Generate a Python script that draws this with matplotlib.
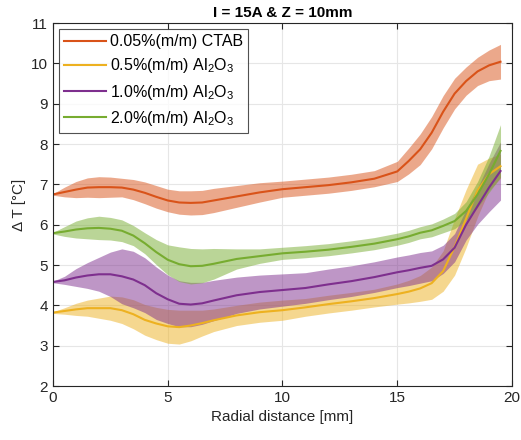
import matplotlib.pyplot as plt
import matplotlib
import numpy as np

matplotlib.rcParams['font.family'] = ['Liberation Sans', 'DejaVu Sans']
matplotlib.rcParams['mathtext.fontset'] = 'custom'
matplotlib.rcParams['mathtext.rm'] = 'Liberation Sans'
matplotlib.rcParams['mathtext.it'] = 'Liberation Sans'

# radial position [mm]
r = [0, 0.5, 1, 1.5, 2, 2.5, 3, 3.5, 4, 4.5, 5, 5.5, 6, 6.5, 7,
     8, 9, 10, 11, 12, 13, 14, 15, 15.5, 16, 16.5, 17, 17.5, 18, 18.5, 19, 19.5]

# mean temperature rise and spread for each fluid
ctab_mean = [6.75, 6.81, 6.87, 6.92, 6.93, 6.93, 6.92, 6.87, 6.79, 6.69, 6.6, 6.55, 6.54, 6.55, 6.6,
             6.7, 6.8, 6.88, 6.93, 6.98, 7.05, 7.14, 7.32, 7.58, 7.87, 8.28, 8.8, 9.25, 9.56, 9.8, 9.95, 10.04]
ctab_sd = [0.02, 0.12, 0.2, 0.24, 0.26, 0.25, 0.23, 0.25, 0.27, 0.28, 0.28, 0.29, 0.3, 0.3, 0.3,
           0.27, 0.24, 0.2, 0.2, 0.2, 0.2, 0.2, 0.25, 0.32, 0.38, 0.4, 0.4, 0.38, 0.35, 0.35, 0.38, 0.43]

al05_mean = [3.82, 3.86, 3.9, 3.93, 3.93, 3.93, 3.88, 3.78, 3.64, 3.55, 3.48, 3.46, 3.5, 3.56, 3.63,
             3.75, 3.83, 3.88, 3.95, 4.03, 4.1, 4.18, 4.28, 4.34, 4.42, 4.55, 4.85, 5.45, 6.15, 6.85, 7.25, 7.45]
al05_sd = [0.02, 0.08, 0.15, 0.2, 0.25, 0.3, 0.33, 0.36, 0.38, 0.4, 0.42, 0.42, 0.38, 0.32, 0.28,
           0.25, 0.25, 0.25, 0.22, 0.22, 0.22, 0.22, 0.25, 0.28, 0.32, 0.4, 0.5, 0.7, 0.72, 0.65, 0.4, 0.3]

al10_mean = [4.58, 4.62, 4.69, 4.74, 4.77, 4.77, 4.72, 4.64, 4.5, 4.3, 4.15, 4.04, 4.02, 4.05, 4.12,
             4.25, 4.33, 4.38, 4.43, 4.52, 4.6, 4.7, 4.82, 4.87, 4.93, 4.98, 5.14, 5.43, 6.0, 6.46, 6.92, 7.33]
al10_sd = [0.02, 0.1, 0.22, 0.32, 0.42, 0.55, 0.68, 0.7, 0.68, 0.65, 0.6, 0.57, 0.55, 0.52, 0.5,
           0.45, 0.42, 0.4, 0.38, 0.38, 0.38, 0.38, 0.38, 0.38, 0.38, 0.37, 0.35, 0.35, 0.38, 0.45, 0.6, 0.72]

al20_mean = [5.79, 5.83, 5.88, 5.91, 5.92, 5.9, 5.85, 5.73, 5.54, 5.32, 5.13, 5.02, 4.97, 4.98, 5.03,
             5.15, 5.22, 5.29, 5.33, 5.38, 5.45, 5.53, 5.64, 5.71, 5.8, 5.86, 5.97, 6.09, 6.34, 6.75, 7.25, 7.83]
al20_sd = [0.02, 0.12, 0.21, 0.26, 0.29, 0.28, 0.27, 0.25, 0.26, 0.31, 0.37, 0.43, 0.44, 0.42, 0.38,
           0.25, 0.18, 0.15, 0.15, 0.15, 0.15, 0.15, 0.15, 0.15, 0.15, 0.16, 0.17, 0.19, 0.23, 0.32, 0.45, 0.65]

labels = ['0.05%(m/m) CTAB', r'0.5%(m/m) Al$_2$O$_3$',
          r'1.0%(m/m) Al$_2$O$_3$', r'2.0%(m/m) Al$_2$O$_3$']
colors = ['#D95319', '#EDB120', '#7E2F8E', '#77AC30']
means = [ctab_mean, al05_mean, al10_mean, al20_mean]
sds = [ctab_sd, al05_sd, al10_sd, al20_sd]

fig = plt.figure(figsize=(5.21, 4.40), dpi=100)
ax = fig.add_axes([0.1017, 0.1227, 0.881, 0.825])

x = np.array(r)
for m, s, c, lab in zip(means, sds, colors, labels):
    m = np.array(m)
    s = np.array(s)
    ax.fill_between(x, m - s, m + s, color=c, alpha=0.5, linewidth=0)
    ax.plot(x, m, color=c, linewidth=1.5, label=lab)

ax.set_xlim(0, 20)
ax.set_ylim(2, 11)
ax.set_xticks([0, 5, 10, 15, 20])
ax.set_yticks(range(2, 12))
ax.grid(True, color='#e6e6e6', linewidth=0.8)
ax.set_axisbelow(True)
ax.tick_params(direction='in', top=True, right=True, length=4,
               labelsize=11, colors='#262626')
for sp in ax.spines.values():
    sp.set_color('#262626')
    sp.set_linewidth(0.8)

ax.set_xlabel('Radial distance [mm]', fontsize=11, color='#262626')
ax.set_ylabel('Δ T [°C]', fontsize=11, color='#262626')
ax.set_title('I = 15A & Z = 10mm', fontsize=11, fontweight='bold', pad=4)

leg = ax.legend(loc='upper left', fontsize=11.5, frameon=True, fancybox=False,
                edgecolor='#262626', handlelength=2.6, handletextpad=0.3,
                borderaxespad=0.4, labelspacing=0.45, borderpad=0.3)
leg.get_frame().set_linewidth(0.8)

plt.savefig('out.png', dpi=100)
